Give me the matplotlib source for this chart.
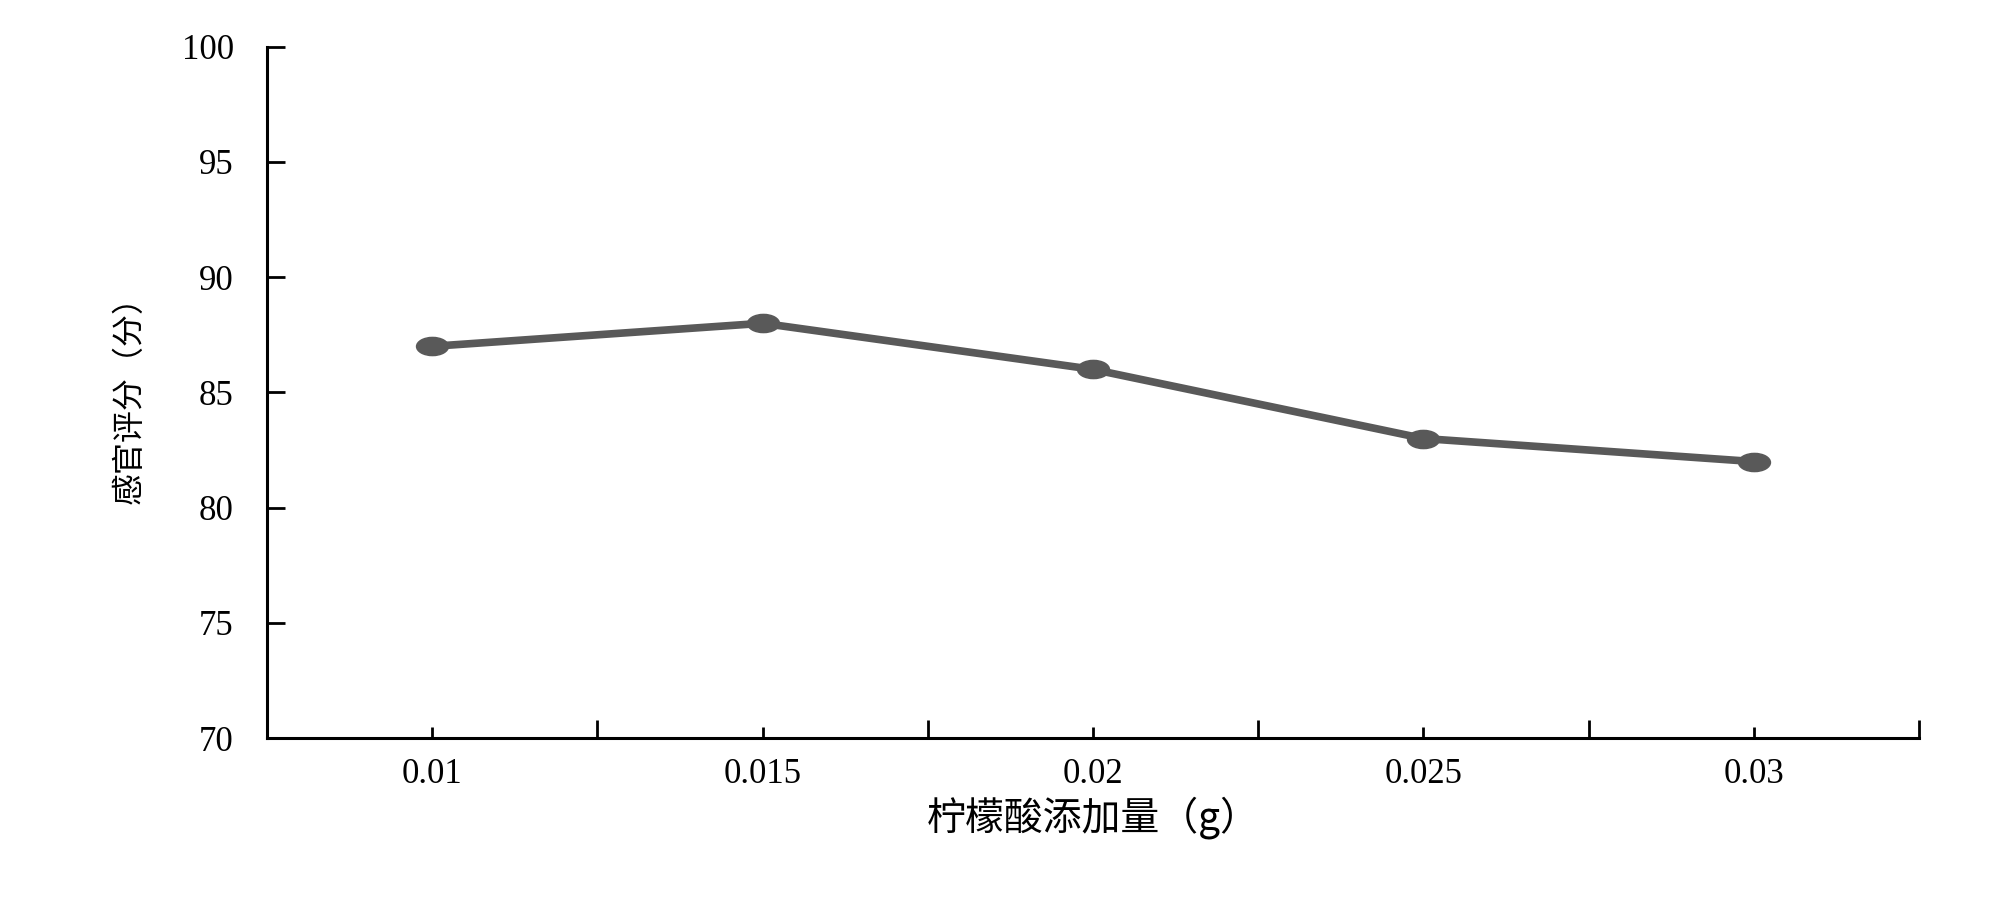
import numpy as np
import matplotlib
matplotlib.use("Agg")
import matplotlib.pyplot as plt
from matplotlib.path import Path
from matplotlib.ticker import FixedLocator

categories = ['0.01', '0.015', '0.02', '0.025', '0.03']
scores = [87, 88, 86, 83, 82]

plt.rcParams['font.family'] = ['Liberation Serif', 'Noto Sans CJK SC']

# flattened ellipse marker (original chart is stretched sideways)
circ = Path.unit_circle()
ellipse = Path(circ.vertices * np.array([1.0, 0.57]), circ.codes)

fig = plt.figure(figsize=(20, 8.98), dpi=100)
ax = fig.add_axes([0.1335, 0.178, 0.826, 0.77])

x = np.arange(len(categories))
ax.plot(x, scores, color='#595959', lw=5.5, marker=ellipse, markersize=23,
        markerfacecolor='#595959', markeredgecolor='#595959')

ax.set_xlim(-0.5, len(categories) - 0.5)
ax.set_ylim(70, 100)
ax.set_yticks(np.arange(70, 101, 5))
ax.set_xticks(x)
ax.set_xticklabels(categories)
ax.xaxis.set_minor_locator(FixedLocator(np.arange(-0.5, len(categories), 1.0)))

for s in ['top', 'right']:
    ax.spines[s].set_visible(False)
for s in ['left', 'bottom']:
    ax.spines[s].set_linewidth(2.2)

ax.tick_params(axis='y', direction='in', length=13, width=2, labelsize=25, pad=24)
ax.tick_params(axis='x', which='major', direction='in', length=8, width=2,
               labelsize=25, pad=14)
ax.tick_params(axis='x', which='minor', direction='in', length=13, width=2)

ax.set_xlabel('柠檬酸添加量（g）', fontsize=28, family=['Noto Sans CJK SC'], labelpad=4)
ax.set_ylabel('感官评分（分）', fontsize=23, family=['Noto Sans CJK SC'], labelpad=26)

fig.savefig('out.png', dpi=100, facecolor='white')
